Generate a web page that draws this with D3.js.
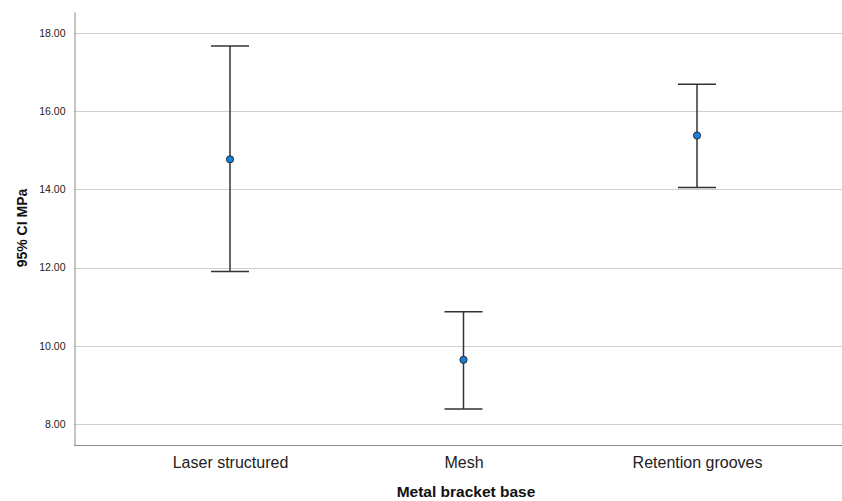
<!DOCTYPE html>
<html><head><meta charset="utf-8">
<script src="https://cdn.jsdelivr.net/npm/d3@7"></script>
<style>body{margin:0;background:#fff;} text{font-family:"Liberation Sans",Arial,sans-serif;}</style>
</head><body>
<svg id="c" width="842" height="501"></svg>
<script>
const categories = ["Laser structured", "Mesh", "Retention grooves"];
const means = [14.77, 9.64, 15.38];
const lowers = [11.90, 8.38, 14.05];
const uppers = [17.67, 10.87, 16.69];
const yTicks = [8, 10, 12, 14, 16, 18];

(function () {
const svg = d3.select("#c");
const mLeft = 74, mRight = 842, mTop = 12, mBottom = 445;
const y = d3.scaleLinear().domain([7.46, 18.54]).range([mBottom, mTop]);
const x = d3.scalePoint().domain(categories).range([230, 697]);

// gridlines
svg.append("g").selectAll("line").data(yTicks).join("line")
  .attr("x1", mLeft).attr("x2", mRight)
  .attr("y1", d => Math.round(y(d)) + 0.5).attr("y2", d => Math.round(y(d)) + 0.5)
  .attr("stroke", "#cfcfcf").attr("stroke-width", 1);

// y axis
const ya = svg.append("g").attr("transform", `translate(${mLeft + 0.5},0)`)
  .call(d3.axisLeft(y).tickValues(yTicks).tickFormat(d3.format(".2f")).tickSize(0).tickPadding(9));
ya.select(".domain").attr("stroke", "#8a8a8a");
ya.selectAll("text").attr("font-size", 10.5).attr("fill", "#222").style("font-family", "Liberation Sans, Arial, sans-serif");

// x axis
const xa = svg.append("g").attr("transform", `translate(0,${mBottom + 0.5})`)
  .call(d3.axisBottom(x).tickSize(0).tickPadding(11));
xa.select(".domain").attr("d", `M${mLeft},0H${mRight}`).attr("stroke", "#8a8a8a");
xa.selectAll("text").attr("font-size", 16).attr("fill", "#222").style("font-family", "Liberation Sans, Arial, sans-serif");

// error bars
const g = svg.append("g");
const cap = 19;
categories.forEach((c, i) => {
  const cx = x(c);
  g.append("line").attr("x1", cx).attr("x2", cx).attr("y1", y(lowers[i])).attr("y2", y(uppers[i]))
    .attr("stroke", "#333").attr("stroke-width", 1.5);
  [lowers[i], uppers[i]].forEach(v => {
    g.append("line").attr("x1", cx - cap).attr("x2", cx + cap).attr("y1", y(v)).attr("y2", y(v))
      .attr("stroke", "#333").attr("stroke-width", 1.5);
  });
  g.append("circle").attr("cx", cx).attr("cy", y(means[i])).attr("r", 3.6)
    .attr("fill", "#1a7fd6").attr("stroke", "#1d2b3a").attr("stroke-width", 1);
});

// titles
svg.append("text").attr("x", 466).attr("y", 497).attr("text-anchor", "middle")
  .attr("font-size", 15.5).attr("font-weight", "bold").attr("fill", "#111").text("Metal bracket base");
svg.append("text").attr("transform", `translate(27,${228}) rotate(-90)`).attr("text-anchor", "middle")
  .attr("font-size", 14).attr("font-weight", "bold").attr("fill", "#111").text("95% CI MPa");
})();
</script>
</body></html>
